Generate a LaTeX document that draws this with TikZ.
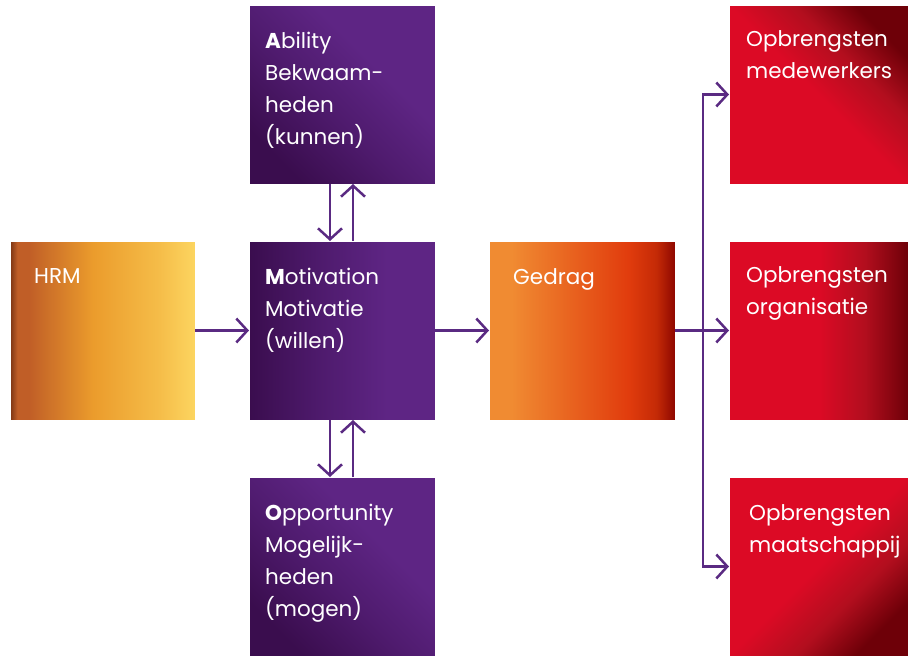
\documentclass[tikz,border=0pt]{standalone}
\usepackage{fontspec}
\setmainfont{Poppins}
\usetikzlibrary{arrows.meta}

\definecolor{linepurple}{HTML}{5A2A82}
\definecolor{purpdark}{HTML}{3A0D4E}
\definecolor{purpmid}{HTML}{4F1B6E}
\definecolor{purplight}{HTML}{5E2584}
\definecolor{reddark}{HTML}{6E0008}
\definecolor{redmid}{HTML}{B20E1E}
\definecolor{redlight}{HTML}{DC0A25}
\definecolor{hrmA}{HTML}{7A3413}
\definecolor{hrmB}{HTML}{C05E27}
\definecolor{hrmC}{HTML}{EB9C2C}
\definecolor{hrmD}{HTML}{F5BC48}
\definecolor{hrmE}{HTML}{FCD560}
\definecolor{gedA}{HTML}{F08B32}
\definecolor{gedB}{HTML}{E13C0D}
\definecolor{gedC}{HTML}{C42A06}
\definecolor{gedD}{HTML}{8E0700}

\pgfdeclarehorizontalshading{hrmshade}{100bp}{color(0bp)=(hrmA); color(25bp)=(hrmA);
  color(27bp)=(hrmB); color(30bp)=(hrmB); color(47.5bp)=(hrmC); color(65bp)=(hrmD);
  color(75bp)=(hrmE); color(100bp)=(hrmE)}
\pgfdeclarehorizontalshading{gedshade}{100bp}{color(0bp)=(gedA); color(25bp)=(gedA);
  color(31bp)=(gedA); color(62.5bp)=(gedB); color(70bp)=(gedC); color(75bp)=(gedD);
  color(100bp)=(gedD)}
\pgfdeclarehorizontalshading{purpshade}{100bp}{color(0bp)=(purpdark); color(25bp)=(purpdark);
  color(45bp)=(purpmid); color(62bp)=(purplight); color(100bp)=(purplight)}
\pgfdeclarehorizontalshading{redshade}{100bp}{color(0bp)=(redlight); color(25bp)=(redlight);
  color(50bp)=(redlight); color(63bp)=(redmid); color(75bp)=(reddark); color(100bp)=(reddark)}

\tikzset{
  box/.style={minimum height=179pt, inner sep=0pt, outer sep=0pt, draw=white, line width=0.5pt},
  hrmbox/.style={box, minimum width=185pt, shading=hrmshade},
  purpbox/.style={box, minimum width=186pt, shading=purpshade, shading angle=#1},
  purpbox/.default=45,
  gedbox/.style={box, minimum width=186pt, shading=gedshade},
  redbox/.style={box, minimum width=179pt, shading=redshade, shading angle=#1},
  redbox/.default=0,
  txt/.style={anchor=north west, inner sep=0pt, text=white, align=left, font=\fontsize{21.5}{32}\selectfont},
  flow/.style={draw=linepurple, line width=2.5pt, -{Straight Barb[length=11pt, width=24pt]}}
}

\begin{document}
\begin{tikzpicture}[x=1pt, y=-1pt]
  \useasboundingbox (0,0) rectangle (908,656);
  % HRM
  \node[hrmbox] (hrm) at (102.5,330.5) {};
  \node[txt] (hrmT) at ([shift={(24,27)}]hrm.north west) {HRM};
  % AMO
  \node[purpbox] (abil) at (342,94.5) {};
  \node[txt] (abilT) at ([shift={(16,27)}]abil.north west) {\textbf{A}bility\\Bekwaam-\\heden\\(kunnen)};
  \node[purpbox=0] (motiv) at (342,330.5) {};
  \node[txt] (motivT) at ([shift={(16,27)}]motiv.north west) {\textbf{M}otivation\\Motivatie\\(willen)};
  \node[purpbox] (oppor) at (342,566.5) {};
  \node[txt] (opporT) at ([shift={(16,27)}]oppor.north west) {\textbf{O}pportunity\\Mogelijk-\\heden\\(mogen)};
  % Gedrag
  \node[gedbox] (gedrag) at (582,330.5) {};
  \node[txt] (gedragT) at ([shift={(24,27)}]gedrag.north west) {Gedrag};
  % Opbrengsten
  \node[redbox=45] (opbMed) at (818.5,94.5) {};
  \node[txt] (opbMedT) at ([shift={(17,25)}]opbMed.north west) {Opbrengsten\\medewerkers};
  \node[redbox] (opbOrg) at (818.5,330.5) {};
  \node[txt] (opbOrgT) at ([shift={(17,25)}]opbOrg.north west) {Opbrengsten\\organisatie};
  \node[redbox=-45] (opbMaat) at (818.5,566.5) {};
  \node[txt] (opbMaatT) at ([shift={(20,27)}]opbMaat.north west) {Opbrengsten\\maatschappij};
  % arrows
  \draw[flow] (hrm.east) -- (motiv.west);
  \draw[flow] (motiv.east) -- (gedrag.west);
  \draw[flow] ([xshift=-12pt]abil.south) -- ([xshift=-12pt]motiv.north);
  \draw[flow] ([xshift=11pt]motiv.north) -- ([xshift=11pt]abil.south);
  \draw[flow] ([xshift=-12pt]motiv.south) -- ([xshift=-12pt]oppor.north);
  \draw[flow] ([xshift=11pt]oppor.north) -- ([xshift=11pt]motiv.south);
  % split to the outcomes
  \coordinate (split) at ([xshift=28pt]gedrag.east);
  \draw[linepurple, line width=2.5pt] (gedrag.east) -- (split);
  \draw[flow] (split) -- (opbOrg.west);
  \draw[flow] (split) |- (opbMed.west);
  \draw[flow] (split) |- (opbMaat.west);
\end{tikzpicture}
\end{document}
